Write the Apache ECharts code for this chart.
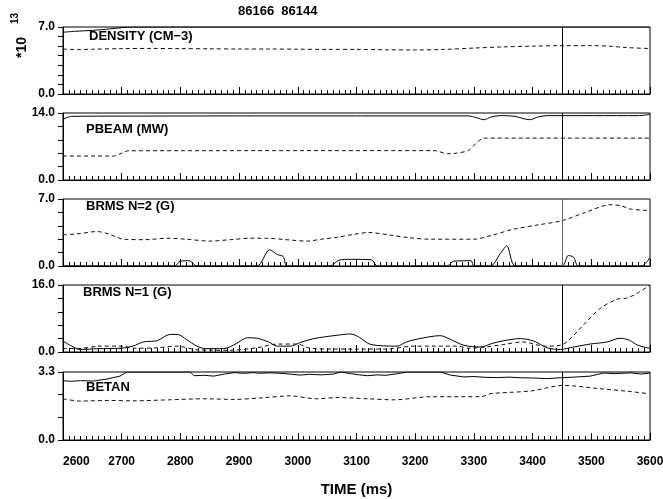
<!DOCTYPE html>
<html><head><meta charset="utf-8">
<script src="https://cdn.jsdelivr.net/npm/echarts@6/dist/echarts.min.js"></script>
<style>html,body{margin:0;padding:0;background:#fff}#c{width:663px;height:499px}</style>
</head><body><div id="c"></div>
<script>
// ---- data ----
const shots = ['86166', '86144'];
const cursorTime = 3450;
const timeMin = 2600, timeMax = 3600, timeStep = 100;
const panelNames = ['DENSITY (CM\u22123)', 'PBEAM (MW)', 'BRMS N=2 (G)', 'BRMS N=1 (G)', 'BETAN'];
const yMax = [7.0, 14.0, 7.0, 16.0, 3.3];
const ySplits = [7, 5, 5, 5, 3];

const densitySolid = [[2600,6.45],[2620,6.55],[2650,6.65],[2680,6.8],[2700,6.93],[2720,7.0],[3000,7.0],[3600,7.0]];
const densityDashed = [[2600,4.7],[2625,4.64],[2650,4.68],[2700,4.74],[2750,4.76],[2800,4.74],[2850,4.72],[2900,4.7],[2950,4.7],[3000,4.68],[3050,4.66],[3100,4.66],[3150,4.62],[3200,4.6],[3250,4.66],[3300,4.8],[3350,4.92],[3400,5.0],[3450,5.05],[3500,5.05],[3530,5.0],[3560,4.85],[3600,4.75]];

const pbeamSolid = [[2600,12.7],[2615,13.3],[2700,13.35],[3000,13.4],[3290,13.4],[3305,13.0],[3317,12.6],[3330,13.2],[3345,13.45],[3370,13.3],[3385,12.8],[3395,12.6],[3410,13.2],[3425,13.45],[3580,13.45],[3600,13.7]];
const pbeamDashed = [[2600,5.0],[2686,5.0],[2700,5.6],[2711,6.1],[2800,6.12],[3000,6.14],[3232,6.14],[3255,5.5],[3270,5.6],[3291,6.2],[3305,7.8],[3317,8.75],[3600,8.75]];

const brms2Solid = [[2600,0],[2790,0],[2800,0.5],[2815,0.55],[2828,0],[2930,0],[2952,1.7],[2965,1.2],[2975,1.0],[2982,0],[3055,0],[3070,0.6],[3090,0.7],[3125,0.65],[3136,0],[3255,0],[3265,0.5],[3295,0.55],[3300,0],[3328,0],[3345,1.3],[3356,2.1],[3371,0],[3450,0],[3461,1.1],[3470,0.9],[3478,0],[3585,0],[3600,0.9]];
const brms2Dashed = [[2600,3.25],[2630,3.4],[2658,3.6],[2680,3.3],[2703,2.8],[2740,2.75],[2777,2.9],[2810,2.8],[2850,2.6],[2885,2.75],[2920,2.9],[2948,2.9],[2980,2.75],[3016,2.6],[3040,2.8],[3067,3.0],[3095,3.3],[3121,3.5],[3160,3.2],[3190,2.95],[3226,2.8],[3300,2.8],[3330,3.2],[3368,3.85],[3410,4.3],[3451,4.75],[3490,5.6],[3533,6.4],[3550,6.3],[3567,5.95],[3599,5.8]];

const brms1Solid = [[2600,2.6],[2615,1.4],[2629,0.6],[2660,0.8],[2700,0.9],[2719,1.4],[2737,2.4],[2760,2.7],[2783,4.2],[2795,4.2],[2810,3.0],[2828,1.4],[2843,0.8],[2874,0.8],[2895,2.0],[2914,3.4],[2930,3.3],[2950,2.4],[2965,1.4],[2987,1.4],[3005,2.3],[3027,3.2],[3067,4.0],[3090,4.3],[3105,3.5],[3124,1.8],[3169,1.4],[3185,2.4],[3204,3.1],[3243,3.9],[3260,3.0],[3283,1.6],[3312,1.2],[3330,2.0],[3351,2.7],[3379,3.2],[3402,2.6],[3425,1.0],[3447,0.6],[3470,1.2],[3498,1.9],[3527,2.4],[3549,3.3],[3565,2.8],[3578,1.7],[3595,1.0],[3600,0.9]];
const brms1Dashed = [[2600,0.8],[2625,0.8],[2663,1.4],[2703,1.4],[2719,0.9],[2760,1.0],[2794,1.4],[2830,0.5],[2880,0.4],[2930,1.0],[2965,1.9],[2999,1.9],[3021,0.9],[3060,0.7],[3100,0.7],[3150,0.7],[3198,1.4],[3273,1.4],[3290,0.9],[3320,1.2],[3351,1.8],[3383,2.4],[3421,1.4],[3447,1.6],[3460,2.6],[3487,6.5],[3516,10.5],[3544,12.6],[3561,12.9],[3578,14.0],[3600,16.0]];

const betanSolid = [[2600,2.87],[2615,2.85],[2630,2.88],[2652,2.86],[2675,2.96],[2697,3.1],[2709,3.3],[2817,3.3],[2823,3.12],[2840,3.14],[2857,3.1],[2875,3.2],[2891,3.27],[2908,3.24],[2925,3.27],[2935,3.24],[2955,3.26],[2975,3.23],[3004,3.15],[3020,3.19],[3040,3.16],[3061,3.2],[3073,3.3],[3090,3.22],[3105,3.16],[3119,3.12],[3135,3.16],[3150,3.14],[3170,3.22],[3187,3.3],[3243,3.3],[3260,3.15],[3283,3.06],[3300,3.08],[3320,3.04],[3340,3.03],[3360,3.05],[3380,3.02],[3400,3.01],[3425,2.98],[3447,3.02],[3470,3.05],[3498,3.1],[3521,3.25],[3540,3.22],[3567,3.26],[3585,3.2],[3600,3.25]];
const betanDashed = [[2600,2.0],[2629,1.89],[2680,1.92],[2719,1.9],[2780,1.95],[2840,2.0],[2891,1.97],[2940,2.05],[2987,2.14],[3032,2.0],[3067,2.06],[3119,2.0],[3164,1.95],[3226,2.1],[3312,2.1],[3329,2.25],[3397,2.38],[3453,2.65],[3511,2.5],[3567,2.35],[3597,2.25]];

const solidSeries = [densitySolid, pbeamSolid, brms2Solid, brms1Solid, betanSolid];
const dashedSeries = [densityDashed, pbeamDashed, brms2Dashed, brms1Dashed, betanDashed];

// ---- layout ----
const FONT = "'Liberation Sans', Arial, sans-serif";
const tops = [27, 113, 199, 285, 372];
const heights = [67, 67, 67, 67, 68];
const labelPos = [[89, 38], [86, 131], [86, 208], [83, 294], [86, 389]];

const grids = [], xAxes = [], yAxes = [], series = [], graphics = [];
for (let i = 0; i < 5; i++) {
  grids.push({left: 63, right: 13, top: tops[i], height: heights[i], show: true,
    outerBoundsMode: 'none', containLabel: false,
    borderColor: '#000', borderWidth: 1, backgroundColor: 'transparent'});
  const last = i === 4;
  xAxes.push({type: 'value', gridIndex: i, min: timeMin, max: timeMax, interval: timeStep,
    axisLine: {show: true, lineStyle: {color: '#000', width: 1}},
    axisTick: {show: true, inside: true, length: 7, lineStyle: {color: '#000', width: 1}},
    minorTick: {show: true, splitNumber: 10, length: 4, lineStyle: {color: '#000', width: 1}},
    splitLine: {show: false},
    axisLabel: last ? {show: true, color: '#000', fontFamily: FONT, fontWeight: 'bold', fontSize: 12, margin: 16,
      alignMinLabel: 'left', formatter: v => String(v)} : {show: false},
    name: last ? 'TIME (ms)' : '', nameLocation: 'middle', nameGap: 42,
    nameTextStyle: {color: '#000', fontFamily: FONT, fontWeight: 'bold', fontSize: 15}
  });
  const mx = yMax[i];
  yAxes.push({type: 'value', gridIndex: i, min: 0, max: mx, interval: mx / ySplits[i],
    axisLine: {show: true, lineStyle: {color: '#000', width: 1}},
    axisTick: {show: true, inside: false, length: 5, lineStyle: {color: '#000'}},
    splitLine: {show: false},
    axisLabel: {show: true, color: '#000', fontFamily: FONT, fontWeight: 'bold', fontSize: 12, margin: 8,
      formatter: v => (Math.abs(v) < 1e-9 || Math.abs(v - mx) < 1e-6) ? v.toFixed(1) : ''}
  });
  series.push({type: 'line', xAxisIndex: i, yAxisIndex: i, data: solidSeries[i], showSymbol: false,
    smooth: i === 4 ? false : 0.3, clip: true,
    lineStyle: {color: '#000', width: 1, type: 'solid'},
    markLine: {silent: true, symbol: ['none', 'none'], label: {show: false},
      lineStyle: {color: i === 2 ? '#666' : '#000', type: 'solid', width: 1},
      data: [{xAxis: cursorTime}]}
  });
  series.push({type: 'line', xAxisIndex: i, yAxisIndex: i, data: dashedSeries[i], showSymbol: false,
    smooth: 0.3, clip: true,
    lineStyle: {color: '#111', width: 1, type: [4, 3]}});
  graphics.push({type: 'text', left: labelPos[i][0], top: labelPos[i][1] - 8,
    style: {text: panelNames[i], fill: '#000', font: 'bold 13px ' + FONT}});
}
graphics.push({type: 'text', left: 238, top: 5, style: {text: shots.join('  '), fill: '#000', font: 'bold 13px ' + FONT}});
graphics.push({type: 'text', x: 22, y: 58, rotation: Math.PI / 2, style: {text: '*10', fill: '#000', font: 'bold 14px ' + FONT, textAlign: 'left', textVerticalAlign: 'middle'}});
graphics.push({type: 'text', x: 15, y: 24, rotation: Math.PI / 2, style: {text: '13', fill: '#000', font: 'bold 10px ' + FONT, textAlign: 'left', textVerticalAlign: 'middle'}});

const chart = echarts.init(document.getElementById('c'), null, {renderer: 'canvas'});
chart.setOption({animation: false, backgroundColor: '#fff', grid: grids, xAxis: xAxes, yAxis: yAxes, series: series, graphic: graphics});
</script></body></html>
